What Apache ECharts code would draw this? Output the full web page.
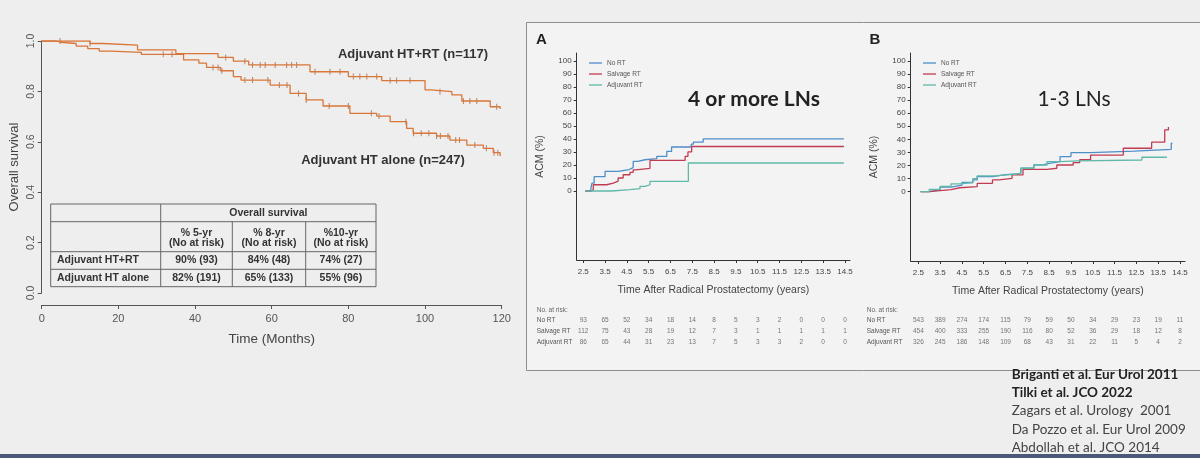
<!DOCTYPE html>
<html><head><meta charset="utf-8">
<script src="https://cdn.jsdelivr.net/npm/echarts@6/dist/echarts.min.js"></script>
<style>html,body{margin:0;padding:0;background:#eeeeee;}#c{width:1200px;height:458px;}</style>
</head><body><div id="c"></div><script>
// ---------- Left: overall survival (Kaplan-Meier) ----------
const osHTRT = [[0,1],[12.6,0.99],[16,0.984],[25,0.965],[35,0.95],[46,0.935],[50,0.92],[54,0.905],[70,0.878],[80,0.859],[88.7,0.843],[100,0.806],[101.5,0.799],[107,0.786],[109.6,0.762],[117,0.739],[119.6,0.73]];
const osHT = [[0,1],[3.9,0.995],[5,0.99],[9,0.98],[12,0.97],[15,0.96],[18,0.955],[26,0.947],[37,0.925],[41,0.912],[43,0.895],[46.6,0.882],[50,0.859],[52,0.845],[59.6,0.825],[64.8,0.792],[69,0.766],[73.4,0.742],[80.4,0.713],[87.4,0.702],[90.9,0.68],[95.2,0.653],[96.9,0.634],[103,0.623],[106.5,0.607],[110.9,0.587],[115.2,0.574],[117.8,0.557],[119.6,0.544]];
const censorHTRT = [4.8,12.6,48,53,55,57,58.3,60.9,63.9,65.2,66.5,71.3,75.2,77.8,81.3,83,84.8,87.4,90.9,92.6,96.1,103.9,110,111.7,113.5,118.7];
const censorHT = [31.7,34,44.7,46,47,53,55,59,62,64,67,69,75,80,86,88,95,97,99,101,103,104,106,108,109,113,116,118,119];
const tableHeader = ['% 5-yr','% 8-yr','%10-yr'];
const tableRowNames = ['Adjuvant HT+RT','Adjuvant HT alone'];
const tableValues = [['90% (93)','84% (48)','74% (27)'],['82% (191)','65% (133)','55% (96)']];

// ---------- Right: ACM panels ----------
const groupNames = ['No RT','Salvage RT','Adjuvant RT'];
const xTicks = [2.5,3.5,4.5,5.5,6.5,7.5,8.5,9.5,10.5,11.5,12.5,13.5,14.5];
const yTicks = [0,10,20,30,40,50,60,70,80,90,100];
const aNoRT = [[2.6,0],[2.85,2],[2.9,6],[3.0,11],[3.5,15],[4.1,16.5],[4.6,18],[4.79,22.7],[5.0,24],[5.33,24.8],[5.87,26.6],[6.33,30.4],[6.55,33.8],[7.45,36],[7.55,37.6],[8.0,40],[14.45,40]];
const aSalvage = [[2.6,0],[2.85,1],[2.96,4.8],[3.57,6.1],[3.88,7.6],[4.1,10],[4.33,12.5],[4.64,14.3],[4.79,16.3],[4.9,17.4],[5.56,23.5],[7.17,26.6],[7.3,30],[7.47,34.2],[14.45,34.2]];
const aAdjuvant = [[2.6,0],[3.8,1],[4.64,1.8],[5.1,3.5],[5.33,4.8],[5.56,7.4],[7.32,21.5],[14.45,21.5]];
const bNoRT = [[2.6,0],[3.0,1.5],[3.5,3.5],[4.0,5],[4.5,7],[5.0,9],[5.2,11.5],[5.9,13],[6.5,13.5],[7.1,14.5],[7.2,18],[7.8,20.5],[8.2,21.7],[8.5,23],[9.0,26.8],[9.5,29.8],[10.4,31],[12.4,32.4],[14.1,37],[14.15,37]];
const bSalvage = [[2.6,0],[3.0,0.8],[3.5,1.5],[4.0,3],[4.4,3.8],[5.2,6.4],[5.9,9],[6.2,10.2],[6.8,12.8],[7.3,17.1],[8.4,17.9],[8.85,20.4],[9.6,22.2],[9.9,24.4],[10.4,28],[11.9,33.2],[13.2,37.8],[13.8,47.2],[13.97,49.5],[14.0,49.5]];
const bAdjuvant = [[2.6,0],[3.0,1.8],[3.5,4],[4.0,6],[4.4,7],[5.0,10],[5.2,12],[6.0,13.5],[7.0,14],[7.2,17.9],[7.8,20.4],[8.4,23],[9.0,23.5],[9.8,24.2],[12.75,26.3],[13.9,26.3]];
const riskA = { 'No RT':[93,65,52,34,18,14,8,5,3,2,0,0,0], 'Salvage RT':[112,75,43,28,19,12,7,3,1,1,1,1,1], 'Adjuvant RT':[86,65,44,31,23,13,7,5,3,3,2,0,0] };
const riskB = { 'No RT':[543,389,274,174,115,79,59,50,34,29,23,19,11], 'Salvage RT':[454,400,333,255,190,116,80,52,36,29,18,12,8], 'Adjuvant RT':[326,245,186,148,109,68,43,31,22,11,5,4,2] };
const references = ['Briganti et al. Eur Urol 2011','Tilki et al. JCO 2022','Zagars et al. Urology  2001','Da Pozzo et al. Eur Urol 2009','Abdollah et al. JCO 2014'];

// ---------- build ----------
const ORANGE = '#d97639';
const COLORS = {'No RT':'#4d8fc9','Salvage RT':'#c13c52','Adjuvant RT':'#5fb9a9'};
const SANS = 'Liberation Sans, Arial, sans-serif';
const SLIDE = 'Lato, sans-serif';

function survAt(curve, t){ let v = curve[0][1]; for (const p of curve){ if (p[0] <= t) v = p[1]; } return v; }

const chart = echarts.init(document.getElementById('c'), null, {renderer:'canvas'});

function panelX(grid, left, width, withLabels){
  return {gridIndex:grid, type:'value', min: left, max: 14.73,
    axisLine:{show:withLabels, onZero:false, lineStyle:{color:'#333',width:1}},
    axisTick:{show:withLabels, customValues:xTicks, length:3, lineStyle:{color:'#333'}},
    axisLabel:{show:withLabels, customValues:xTicks, fontSize:8, color:'#444', fontFamily:SANS, margin:8, formatter:v=>v.toFixed(1)},
    splitLine:{show:false},
    name: withLabels ? 'Time After Radical Prostatectomy (years)' : '', nameLocation:'middle', nameGap:25,
    nameTextStyle:{fontSize:10.5, color:'#444', fontFamily:SANS}};
}
function panelY(grid){
  return {gridIndex:grid, type:'value', min:-53, max:106,
    axisLine:{show:true, onZero:false, lineStyle:{color:'#333',width:1}},
    axisTick:{show:true, customValues:yTicks, length:3, lineStyle:{color:'#333'}},
    axisLabel:{customValues:yTicks, fontSize:8, color:'#444', fontFamily:SANS, margin:5},
    splitLine:{show:false},
    name:'ACM (%)', nameLocation:'middle', nameGap:31, nameRotate:90,
    nameTextStyle:{fontSize:10.5, color:'#444', fontFamily:SANS}};
}
function riskY(grid, margin){
  return {gridIndex:grid, type:'category', data:groupNames, inverse:true,
    axisLine:{show:false}, axisTick:{show:false}, splitLine:{show:false},
    axisLabel:{fontSize:6.5, color:'#555', fontFamily:SANS, align:'left', margin:margin}};
}
function riskData(tbl){
  const out = [];
  groupNames.forEach(g => tbl[g].forEach((n,i) => out.push([xTicks[i], g, n])));
  return out;
}
function lineSeries(name, data, xi, yi){
  return {type:'line', name, data, xAxisIndex:xi, yAxisIndex:yi, step:'end', showSymbol:false, silent:true,
    lineStyle:{color:COLORS[name], width:1.3}, itemStyle:{color:COLORS[name]}};
}
function riskSeries(tbl, xi, yi){
  return {type:'scatter', name:'risk', data:riskData(tbl), xAxisIndex:xi, yAxisIndex:yi, symbolSize:1, silent:true,
    itemStyle:{color:'rgba(0,0,0,0)'},
    label:{show:true, position:'inside', formatter:p=>String(p.value[2]), fontSize:6.5, color:'#555', fontFamily:SANS}};
}

const graphics = [];
// right box
graphics.push({type:'rect', z:-10, shape:{x:526.5, y:22.5, width:700, height:348}, style:{fill:'#f3f3f3', stroke:'#8e8e8e', lineWidth:1}});
// bottom line
graphics.push({type:'rect', z:-10, shape:{x:0, y:454, width:1200, height:4}, style:{fill:'#4b5878'}});
// table on left
const tx = [50.7,160.7,232.3,305.7,376], ty = [204,221.7,251.7,269.3,286.7];
const TL = {stroke:'#666', lineWidth:1};
graphics.push({type:'rect', shape:{x:tx[0], y:ty[0], width:tx[4]-tx[0], height:ty[4]-ty[0]}, style:{fill:'none', stroke:'#666', lineWidth:1}});
[1,2,3].forEach(i => graphics.push({type:'line', shape:{x1:tx[0], y1:ty[i], x2:tx[4], y2:ty[i]}, style:TL}));
graphics.push({type:'line', shape:{x1:tx[1], y1:ty[0], x2:tx[1], y2:ty[4]}, style:TL});
[2,3].forEach(i => graphics.push({type:'line', shape:{x1:tx[i], y1:ty[1], x2:tx[i], y2:ty[4]}, style:TL}));
const TF = {fontSize:10.5, fontWeight:'bold', fontFamily:SANS, fill:'#333'};
function txt(x,y,text,extra){ graphics.push({type:'text', x, y, style:Object.assign({text, align:'center', verticalAlign:'middle'}, TF, extra||{})}); }
txt((tx[1]+tx[4])/2, (ty[0]+ty[1])/2, 'Overall survival');
for (let c=0;c<3;c++){
  const cx = (tx[c+1]+tx[c+2])/2;
  txt(cx, 232.7, tableHeader[c]);
  txt(cx, 243.5, '(No at risk)');
  for (let r=0;r<2;r++) txt(cx, (ty[r+2]+ty[r+3])/2, tableValues[r][c]);
}
for (let r=0;r<2;r++) txt(57, (ty[r+2]+ty[r+3])/2, tableRowNames[r], {align:'left'});
// curve labels
txt(413, 54, 'Adjuvant HT+RT (n=117)', {fontSize:13});
txt(383, 160.5, 'Adjuvant HT alone (n=247)', {fontSize:13});
// panel letters & titles
txt(541.5, 40, 'A', {fontSize:15, fill:'#222'});
txt(875, 40, 'B', {fontSize:15, fill:'#222'});
txt(754, 99, '4 or more LNs', {fontSize:21, fontFamily:SLIDE, fill:'#222'});
txt(1074, 99, '1-3 LNs', {fontSize:21, fontFamily:SLIDE, fontWeight:'normal', fill:'#222'});
txt(536.7, 310, 'No. at risk:', {fontSize:6.5, fontWeight:'normal', fill:'#666', align:'left'});
txt(866.7, 310, 'No. at risk:', {fontSize:6.5, fontWeight:'normal', fill:'#666', align:'left'});
// references
references.forEach((r,i) => txt(1011.7, 374.5 + i*18.3, r, {fontSize:13.5, fontFamily:SLIDE, fontWeight: i<2 ? 'bold':'normal', fill: i<2 ? '#222':'#444', align:'left'}));

const option = {
  animation:false,
  backgroundColor:'#eeeeee',
  grid:[
    {left:41.7, top:41, width:460, height:252},
    {left:576.7, top:53, width:273.3, height:207},
    {left:910.7, top:53, width:274.3, height:208},
    {left:576.7, top:315.2, width:273.3, height:33},
    {left:910.7, top:315.2, width:274.3, height:33}
  ],
  xAxis:[
    {gridIndex:0, type:'value', min:0, max:120, interval:20, offset:12,
     axisLine:{onZero:false, lineStyle:{color:'#555'}}, axisTick:{length:4, lineStyle:{color:'#555'}},
     axisLabel:{fontSize:11, color:'#555', fontFamily:SANS, margin:8}, splitLine:{show:false},
     name:'Time (Months)', nameLocation:'middle', nameGap:27, nameTextStyle:{fontSize:13.5, color:'#444', fontFamily:SANS}},
    panelX(1, 2.2, 273.3, true),
    panelX(2, 2.15, 274.3, true),
    panelX(3, 2.2, 273.3, false),
    panelX(4, 2.15, 274.3, false)
  ],
  yAxis:[
    {gridIndex:0, type:'value', min:0, max:1, interval:0.2,
     axisLine:{show:true, onZero:false, lineStyle:{color:'#555'}}, axisTick:{show:true, length:4, lineStyle:{color:'#555'}},
     axisLabel:{fontSize:10.5, color:'#555', fontFamily:SANS, rotate:90, margin:5, formatter:v=>v.toFixed(1)}, splitLine:{show:false},
     name:'Overall survival', nameLocation:'middle', nameGap:21, nameRotate:90, nameTextStyle:{fontSize:13, color:'#444', fontFamily:SANS}},
    panelY(1), panelY(2),
    riskY(3, 40), riskY(4, 44)
  ],
  legend:[
    {data:groupNames, orient:'vertical', left:584, top:54, icon:'rect', itemWidth:13, itemHeight:1.3, itemGap:3,
     textStyle:{fontSize:6.5, color:'#555', fontFamily:SANS, lineHeight:8}, selectedMode:false},
    {data:groupNames, orient:'vertical', left:918, top:54, icon:'rect', itemWidth:13, itemHeight:1.3, itemGap:3,
     textStyle:{fontSize:6.5, color:'#555', fontFamily:SANS, lineHeight:8}, selectedMode:false}
  ],
  series:[
    {type:'line', name:'Adjuvant HT+RT', data:osHTRT, xAxisIndex:0, yAxisIndex:0, step:'end', showSymbol:false, silent:true, lineStyle:{color:ORANGE, width:1.3}},
    {type:'line', name:'Adjuvant HT alone', data:osHT, xAxisIndex:0, yAxisIndex:0, step:'end', showSymbol:false, silent:true, lineStyle:{color:ORANGE, width:1.3}},
    {type:'scatter', name:'cens1', data:censorHTRT.map(t=>[t, survAt(osHTRT,t)]), xAxisIndex:0, yAxisIndex:0, symbol:'rect', symbolSize:[1,6], silent:true, itemStyle:{color:'#a8663f'}},
    {type:'scatter', name:'cens2', data:censorHT.map(t=>[t, survAt(osHT,t)]), xAxisIndex:0, yAxisIndex:0, symbol:'rect', symbolSize:[1,6], silent:true, itemStyle:{color:'#a8663f'}},
    lineSeries('No RT', aNoRT, 1, 1),
    lineSeries('Salvage RT', aSalvage, 1, 1),
    lineSeries('Adjuvant RT', aAdjuvant, 1, 1),
    lineSeries('No RT', bNoRT, 2, 2),
    lineSeries('Salvage RT', bSalvage, 2, 2),
    lineSeries('Adjuvant RT', bAdjuvant, 2, 2),
    riskSeries(riskA, 3, 3),
    riskSeries(riskB, 4, 4)
  ],
  graphic: graphics
};
chart.setOption(option);
</script></body></html>
